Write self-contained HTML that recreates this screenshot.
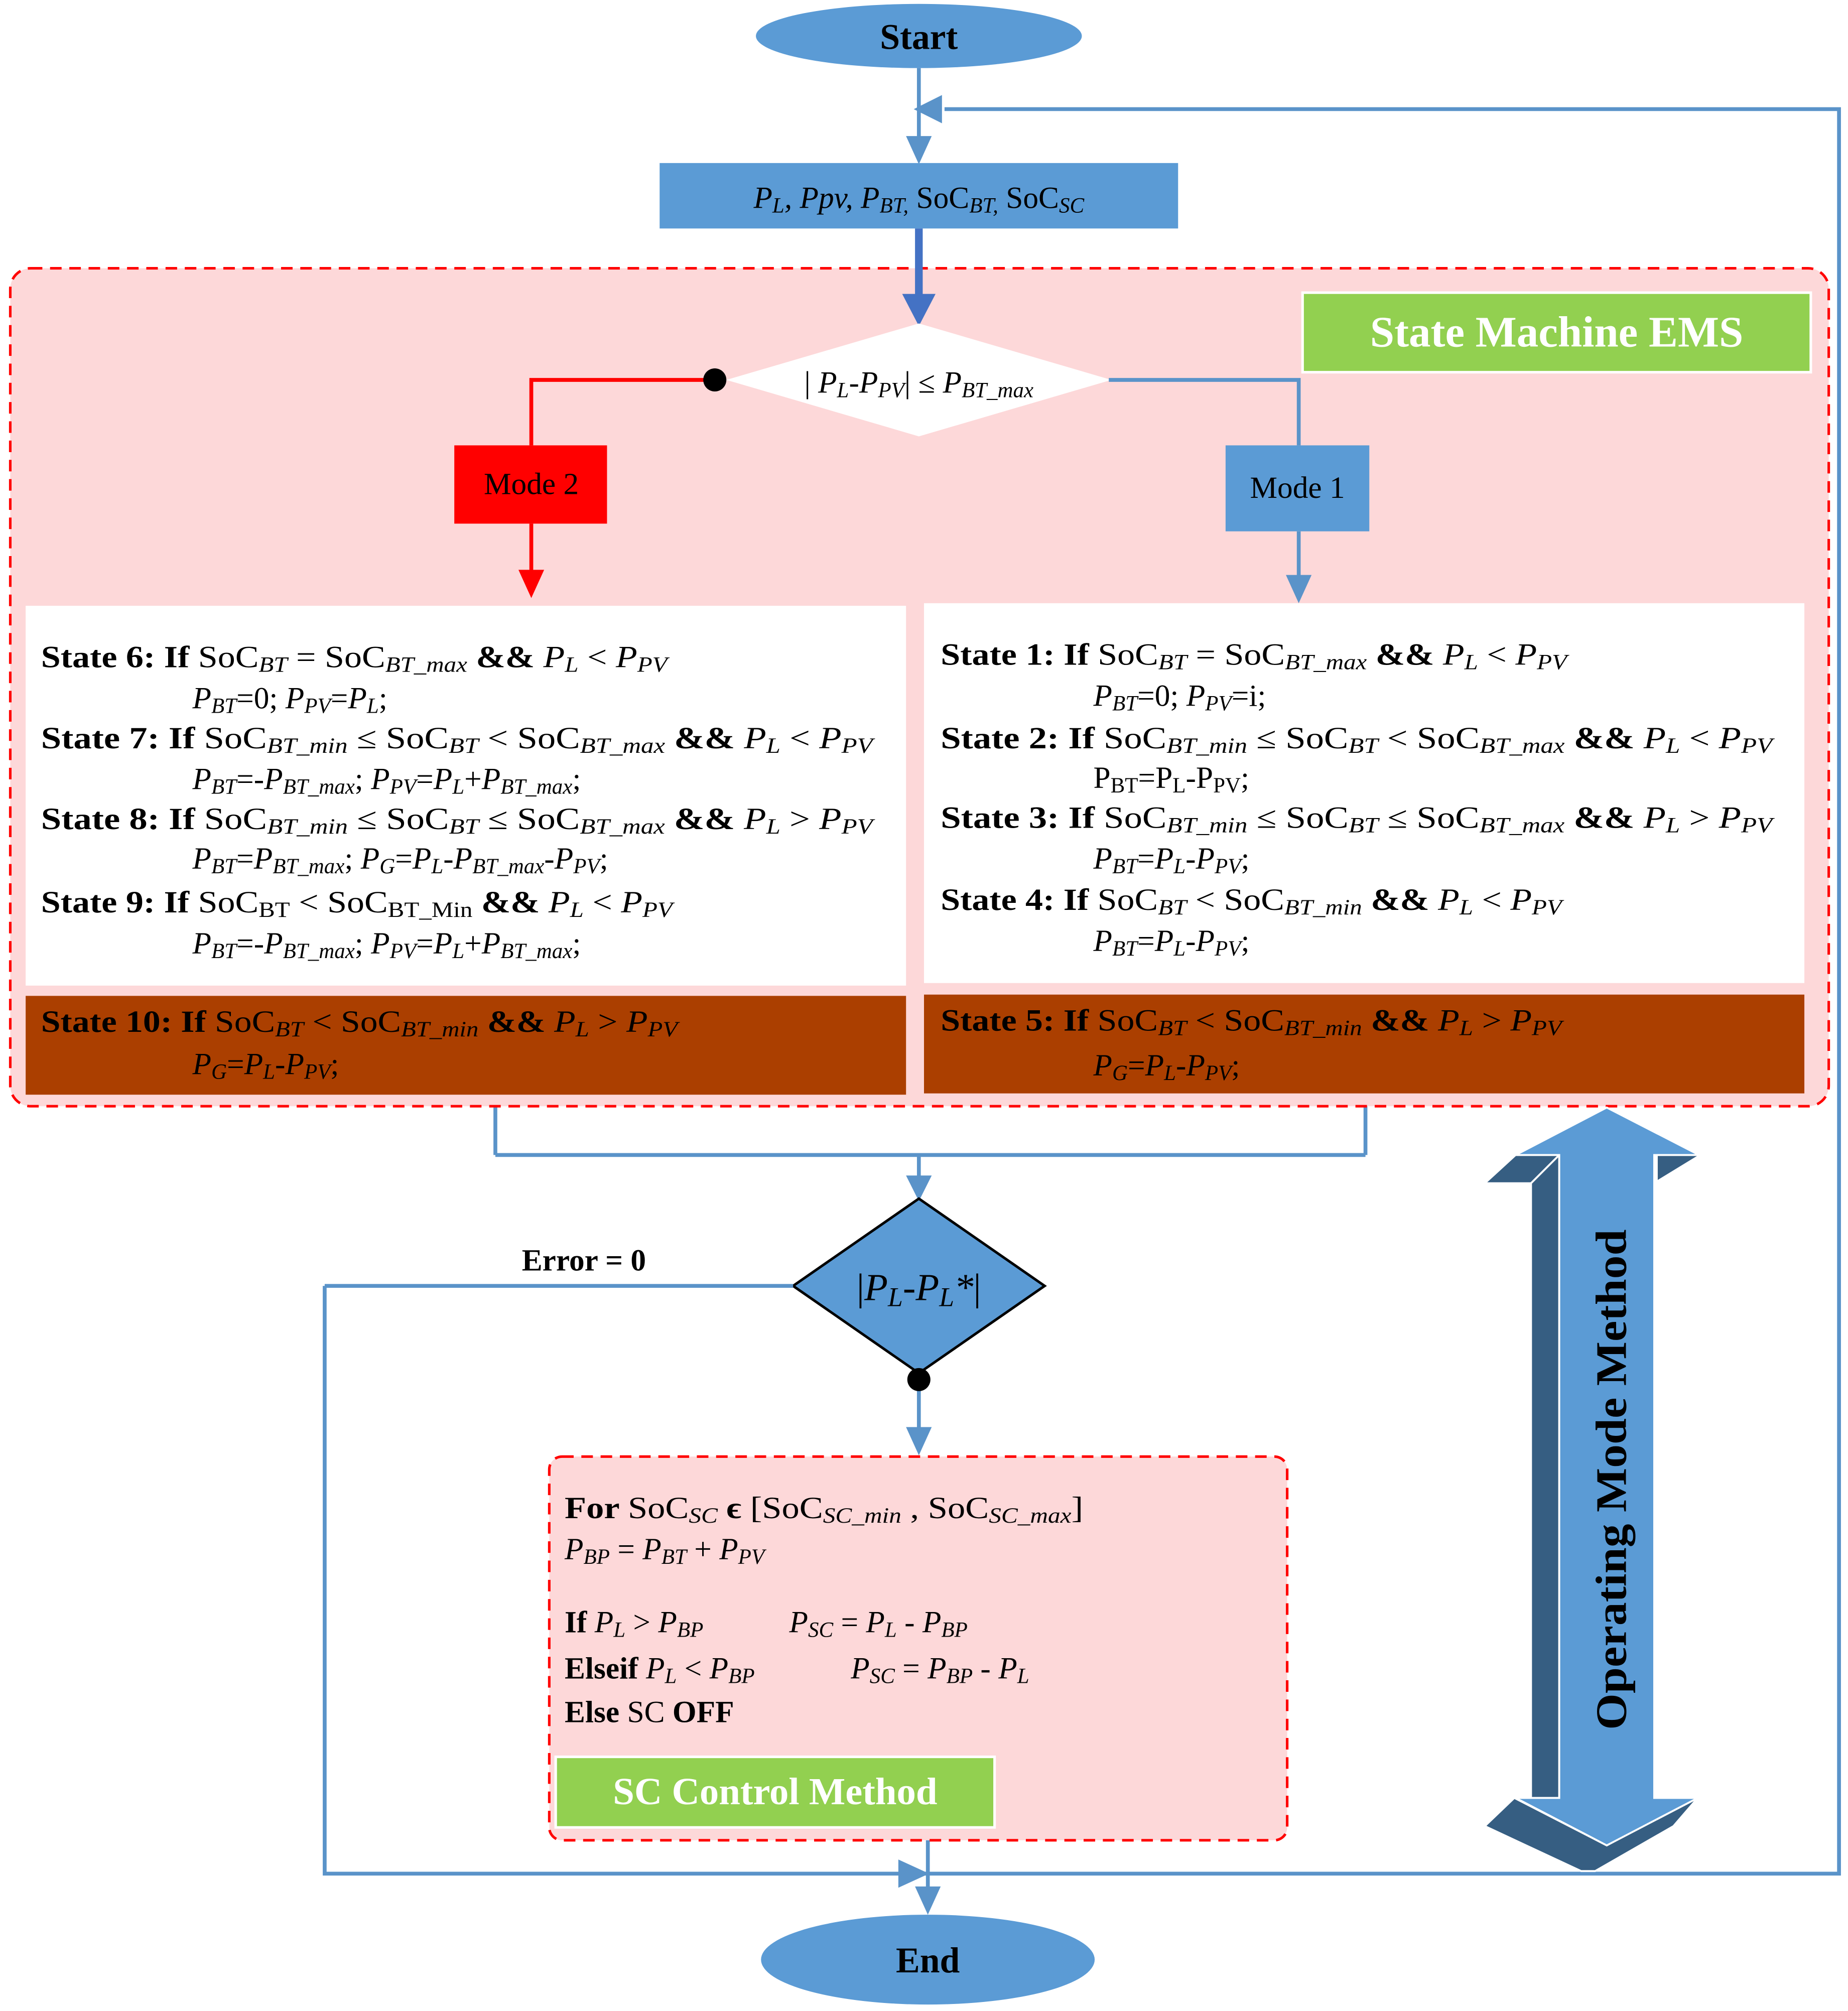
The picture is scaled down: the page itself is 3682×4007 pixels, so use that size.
<!DOCTYPE html>
<html><head><meta charset="utf-8"><style>
html,body{margin:0;padding:0;background:#fff}
svg{display:block}
text{font-family:"Liberation Serif",serif;}
.b{font-weight:bold}
.i{font-style:italic}
.s{font-size:70%;baseline-shift:-22%}
</style></head><body>
<svg width="3682" height="4007" viewBox="0 0 1440 1567" xmlns="http://www.w3.org/2000/svg">
<defs>
<marker id="ab" markerWidth="10" markerHeight="10" refX="8" refY="5" orient="auto" markerUnits="userSpaceOnUse" viewBox="0 0 10 10"><path d="M0,0 L10,5 L0,10 z" fill="#5a93c9"/></marker>
</defs>
<rect width="1440" height="1567" fill="#fff"/>

<!-- loop lines -->
<g stroke="#5a93c9" stroke-width="3" fill="none">
<polyline points="253,1002 253,1460 1433,1460 1433,85 736,85"/>
<line x1="716" y1="53" x2="716" y2="112"/>
<line x1="386" y1="862" x2="386" y2="900"/><line x1="1064" y1="862" x2="1064" y2="900"/>
<line x1="386" y1="900" x2="1064" y2="900"/>
<line x1="716" y1="900" x2="716" y2="920"/>
<line x1="716" y1="1075" x2="716" y2="1118"/>
<line x1="723" y1="1434" x2="723" y2="1475"/>
</g>
<g fill="#5a93c9">
<polygon points="734,74 734,96 712,85"/>
<polygon points="706,106 726,106 716,128"/>
<polygon points="706,916 726,916 716,936"/>
<polygon points="706,1112 726,1112 716,1134"/>
<polygon points="700,1449 700,1471 724,1460"/>
<polygon points="713,1470 733,1470 723,1492"/>
</g>

<!-- start -->
<ellipse cx="716" cy="28" rx="127" ry="25" fill="#5b9bd5"/>
<text x="716" y="38" font-size="28" class="b" text-anchor="middle">Start</text>

<!-- input box -->
<rect x="514" y="127" width="404" height="51" fill="#5b9bd5"/>
<text x="716" y="162" font-size="24" text-anchor="middle"><tspan class="i">P</tspan><tspan class="i s">L</tspan><tspan class="i">, Ppv, P</tspan><tspan class="i s">BT,</tspan> SoC<tspan class="i s">BT,</tspan> SoC<tspan class="i s">SC</tspan></text>

<!-- pink region -->
<rect x="8" y="209" width="1417" height="653" rx="16" fill="#fdd8d9" stroke="#ff0000" stroke-width="2" stroke-dasharray="9,6"/>
<line x1="716" y1="178" x2="716" y2="232" stroke="#4472c4" stroke-width="6"/>
<polygon points="703,229 729,229 716,254" fill="#4472c4"/>

<rect x="1015" y="228" width="396" height="62" fill="#92d050" stroke="#fff" stroke-width="2"/>
<text x="1213" y="270" font-size="34" class="b" fill="#fff" text-anchor="middle">State Machine EMS</text>

<polygon points="716,252 866,296 716,340 566,296" fill="#fff"/>
<text x="716" y="306" font-size="24" text-anchor="middle">| <tspan class="i">P</tspan><tspan class="i s">L</tspan><tspan class="i">-P</tspan><tspan class="i s">PV</tspan>| ≤ <tspan class="i">P</tspan><tspan class="i s">BT_max</tspan></text>

<polyline points="557,296 414,296 414,347" stroke="#ff0000" stroke-width="3" fill="none"/>
<circle cx="557" cy="296" r="9" fill="#000"/>
<rect x="354" y="347" width="119" height="61" fill="#ff0000"/>
<text x="414" y="385" font-size="24" text-anchor="middle">Mode 2</text>
<line x1="414" y1="408" x2="414" y2="448" stroke="#ff0000" stroke-width="3"/>
<polygon points="404,444 424,444 414,466" fill="#ff0000"/>

<polyline points="864,296 1012,296 1012,347" stroke="#5a93c9" stroke-width="3" fill="none"/>
<rect x="955" y="347" width="112" height="67" fill="#5b9bd5"/>
<text x="1011" y="388" font-size="24" text-anchor="middle">Mode 1</text>
<line x1="1012" y1="414" x2="1012" y2="452" stroke="#5a93c9" stroke-width="3"/>
<polygon points="1002,448 1022,448 1012,470" fill="#5a93c9"/>

<!-- white boxes -->
<rect x="20" y="472" width="686" height="296" fill="#fff"/>
<rect x="720" y="470" width="686" height="296" fill="#fff"/>
<rect x="20" y="776" width="686" height="77" fill="#ab3f00"/>
<rect x="720" y="775" width="686" height="77" fill="#ab3f00"/>

<g font-size="24">
<!-- left -->
<text x="32" y="520" textLength="488" lengthAdjust="spacingAndGlyphs"><tspan class="b">State 6: If </tspan>SoC<tspan class="i s">BT</tspan> = SoC<tspan class="i s">BT_max</tspan><tspan class="b"> &amp;&amp; </tspan><tspan class="i">P</tspan><tspan class="i s">L</tspan> &lt; <tspan class="i">P</tspan><tspan class="i s">PV</tspan></text>
<text x="150" y="552"><tspan class="i">P</tspan><tspan class="i s">BT</tspan>=0; <tspan class="i">P</tspan><tspan class="i s">PV</tspan>=<tspan class="i">P</tspan><tspan class="i s">L</tspan>;</text>
<text x="32" y="583" textLength="648" lengthAdjust="spacingAndGlyphs"><tspan class="b">State 7: If </tspan>SoC<tspan class="i s">BT_min</tspan>  ≤  SoC<tspan class="i s">BT</tspan> &lt;  SoC<tspan class="i s">BT_max</tspan><tspan class="b"> &amp;&amp; </tspan><tspan class="i">P</tspan><tspan class="i s">L</tspan> &lt; <tspan class="i">P</tspan><tspan class="i s">PV</tspan></text>
<text x="150" y="615"><tspan class="i">P</tspan><tspan class="i s">BT</tspan>=-<tspan class="i">P</tspan><tspan class="i s">BT_max</tspan>; <tspan class="i">P</tspan><tspan class="i s">PV</tspan>=<tspan class="i">P</tspan><tspan class="i s">L</tspan>+<tspan class="i">P</tspan><tspan class="i s">BT_max</tspan>;</text>
<text x="32" y="646" textLength="648" lengthAdjust="spacingAndGlyphs"><tspan class="b">State 8: If </tspan>SoC<tspan class="i s">BT_min</tspan>  ≤  SoC<tspan class="i s">BT</tspan> ≤  SoC<tspan class="i s">BT_max</tspan><tspan class="b"> &amp;&amp; </tspan><tspan class="i">P</tspan><tspan class="i s">L</tspan> &gt; <tspan class="i">P</tspan><tspan class="i s">PV</tspan></text>
<text x="150" y="677"><tspan class="i">P</tspan><tspan class="i s">BT</tspan>=<tspan class="i">P</tspan><tspan class="i s">BT_max</tspan>; <tspan class="i">P</tspan><tspan class="i s">G</tspan>=<tspan class="i">P</tspan><tspan class="i s">L</tspan>-<tspan class="i">P</tspan><tspan class="i s">BT_max</tspan>-<tspan class="i">P</tspan><tspan class="i s">PV</tspan>;</text>
<text x="32" y="711" textLength="492" lengthAdjust="spacingAndGlyphs"><tspan class="b">State 9: If </tspan>SoC<tspan class="s">BT</tspan> &lt; SoC<tspan class="s">BT_Min</tspan><tspan class="b"> &amp;&amp; </tspan><tspan class="i">P</tspan><tspan class="i s">L</tspan> &lt; <tspan class="i">P</tspan><tspan class="i s">PV</tspan></text>
<text x="150" y="743"><tspan class="i">P</tspan><tspan class="i s">BT</tspan>=-<tspan class="i">P</tspan><tspan class="i s">BT_max</tspan>; <tspan class="i">P</tspan><tspan class="i s">PV</tspan>=<tspan class="i">P</tspan><tspan class="i s">L</tspan>+<tspan class="i">P</tspan><tspan class="i s">BT_max</tspan>;</text>
<text x="32" y="804" textLength="496" lengthAdjust="spacingAndGlyphs"><tspan class="b">State 10: If </tspan>SoC<tspan class="i s">BT</tspan> &lt; SoC<tspan class="i s">BT_min</tspan><tspan class="b"> &amp;&amp; </tspan><tspan class="i">P</tspan><tspan class="i s">L</tspan> &gt; <tspan class="i">P</tspan><tspan class="i s">PV</tspan></text>
<text x="150" y="837"><tspan class="i">P</tspan><tspan class="i s">G</tspan>=<tspan class="i">P</tspan><tspan class="i s">L</tspan>-<tspan class="i">P</tspan><tspan class="i s">PV</tspan>;</text>
<!-- right -->
<text x="733" y="518" textLength="488" lengthAdjust="spacingAndGlyphs"><tspan class="b">State 1: If </tspan>SoC<tspan class="i s">BT</tspan> = SoC<tspan class="i s">BT_max</tspan><tspan class="b"> &amp;&amp; </tspan><tspan class="i">P</tspan><tspan class="i s">L</tspan> &lt; <tspan class="i">P</tspan><tspan class="i s">PV</tspan></text>
<text x="852" y="550"><tspan class="i">P</tspan><tspan class="i s">BT</tspan>=0; <tspan class="i">P</tspan><tspan class="i s">PV</tspan>=i;</text>
<text x="733" y="583" textLength="648" lengthAdjust="spacingAndGlyphs"><tspan class="b">State 2: If </tspan>SoC<tspan class="i s">BT_min</tspan>  ≤  SoC<tspan class="i s">BT</tspan> &lt;  SoC<tspan class="i s">BT_max</tspan><tspan class="b"> &amp;&amp; </tspan><tspan class="i">P</tspan><tspan class="i s">L</tspan> &lt; <tspan class="i">P</tspan><tspan class="i s">PV</tspan></text>
<text x="852" y="614">P<tspan class="s">BT</tspan>=P<tspan class="s">L</tspan>-P<tspan class="s">PV</tspan>;</text>
<text x="733" y="645" textLength="648" lengthAdjust="spacingAndGlyphs"><tspan class="b">State 3: If </tspan>SoC<tspan class="i s">BT_min</tspan>  ≤  SoC<tspan class="i s">BT</tspan> ≤  SoC<tspan class="i s">BT_max</tspan><tspan class="b"> &amp;&amp; </tspan><tspan class="i">P</tspan><tspan class="i s">L</tspan> &gt; <tspan class="i">P</tspan><tspan class="i s">PV</tspan></text>
<text x="852" y="677"><tspan class="i">P</tspan><tspan class="i s">BT</tspan>=<tspan class="i">P</tspan><tspan class="i s">L</tspan>-<tspan class="i">P</tspan><tspan class="i s">PV</tspan>;</text>
<text x="733" y="709" textLength="484" lengthAdjust="spacingAndGlyphs"><tspan class="b">State 4: If </tspan>SoC<tspan class="i s">BT</tspan> &lt; SoC<tspan class="i s">BT_min</tspan><tspan class="b"> &amp;&amp; </tspan><tspan class="i">P</tspan><tspan class="i s">L</tspan> &lt; <tspan class="i">P</tspan><tspan class="i s">PV</tspan></text>
<text x="852" y="741"><tspan class="i">P</tspan><tspan class="i s">BT</tspan>=<tspan class="i">P</tspan><tspan class="i s">L</tspan>-<tspan class="i">P</tspan><tspan class="i s">PV</tspan>;</text>
<text x="733" y="803" textLength="484" lengthAdjust="spacingAndGlyphs"><tspan class="b">State 5: If </tspan>SoC<tspan class="i s">BT</tspan> &lt; SoC<tspan class="i s">BT_min</tspan><tspan class="b"> &amp;&amp; </tspan><tspan class="i">P</tspan><tspan class="i s">L</tspan> &gt; <tspan class="i">P</tspan><tspan class="i s">PV</tspan></text>
<text x="852" y="838"><tspan class="i">P</tspan><tspan class="i s">G</tspan>=<tspan class="i">P</tspan><tspan class="i s">L</tspan>-<tspan class="i">P</tspan><tspan class="i s">PV</tspan>;</text>
</g>

<!-- decision 2 -->
<polygon points="716,934 814,1002 716,1070 618,1002" fill="#5b9bd5" stroke="#000" stroke-width="2"/>
<text x="716" y="1013" font-size="30" text-anchor="middle">|<tspan class="i">P</tspan><tspan class="i s">L</tspan><tspan class="i">-P</tspan><tspan class="i s">L</tspan><tspan class="i">*</tspan>|</text>
<line x1="618" y1="1002" x2="253" y2="1002" stroke="#5a93c9" stroke-width="3"/>
<text x="455" y="990" font-size="24" class="b" text-anchor="middle">Error = 0</text>
<circle cx="716" cy="1075" r="9" fill="#000"/>

<!-- SC box -->
<rect x="428" y="1135" width="575" height="299" rx="10" fill="#fdd8d9" stroke="#ff0000" stroke-width="2" stroke-dasharray="9,6"/>
<g font-size="24">
<text x="440" y="1183" textLength="404" lengthAdjust="spacingAndGlyphs"><tspan class="b">For </tspan>SoC<tspan class="i s">SC</tspan><tspan class="b"> ϵ </tspan>[SoC<tspan class="i s">SC_min</tspan> , SoC<tspan class="i s">SC_max</tspan>]</text>
<text x="440" y="1215"><tspan class="i">P</tspan><tspan class="i s">BP</tspan> = <tspan class="i">P</tspan><tspan class="i s">BT</tspan> + <tspan class="i">P</tspan><tspan class="i s">PV</tspan></text>
<text x="440" y="1272"><tspan class="b">If  </tspan><tspan class="i">P</tspan><tspan class="i s">L</tspan> &gt;  <tspan class="i">P</tspan><tspan class="i s">BP</tspan><tspan x="615" class="i">P</tspan><tspan class="i s">SC</tspan> =  <tspan class="i">P</tspan><tspan class="i s">L</tspan> - <tspan class="i">P</tspan><tspan class="i s">BP</tspan></text>
<text x="440" y="1308"><tspan class="b">Elseif  </tspan><tspan class="i">P</tspan><tspan class="i s">L</tspan> &lt;  <tspan class="i">P</tspan><tspan class="i s">BP</tspan><tspan x="663" class="i">P</tspan><tspan class="i s">SC</tspan> =  <tspan class="i">P</tspan><tspan class="i s">BP</tspan> - <tspan class="i">P</tspan><tspan class="i s">L</tspan></text>
<text x="440" y="1342"><tspan class="b">Else </tspan>SC <tspan class="b">OFF</tspan></text>
</g>
<rect x="433" y="1369" width="342" height="55" fill="#92d050" stroke="#fff" stroke-width="2"/>
<text x="604" y="1406" font-size="30" class="b" fill="#fff" text-anchor="middle">SC Control Method</text>

<!-- end -->
<ellipse cx="723" cy="1527" rx="130" ry="35" fill="#5b9bd5"/>
<text x="723" y="1537" font-size="28" class="b" text-anchor="middle">End</text>

<!-- 3D double arrow -->
<g stroke="#fff" stroke-width="1.5">
<polygon points="1181,900 1229,900 1193,922 1157,922" fill="#365e82"/>
<polygon points="1291,900 1325,900 1289,922 1291,922" fill="#365e82"/>
<polygon points="1193,922 1215,900 1215,1401 1193,1401" fill="#365e82"/>
<polygon points="1157,1423 1180,1401 1252,1438 1287,1419 1323,1401 1304,1423 1243,1458 1232,1458" fill="#365e82"/>
<polygon points="1252,863 1324,900 1289,900 1289,1401 1323,1401 1252,1438 1181,1401 1215,1401 1215,900 1181,900" fill="#5b9bd5"/>
</g>
<text transform="translate(1267,1153) rotate(-90)" font-size="34" class="b" text-anchor="middle" textLength="390" lengthAdjust="spacingAndGlyphs">Operating Mode Method</text>
</svg>
</body></html>
